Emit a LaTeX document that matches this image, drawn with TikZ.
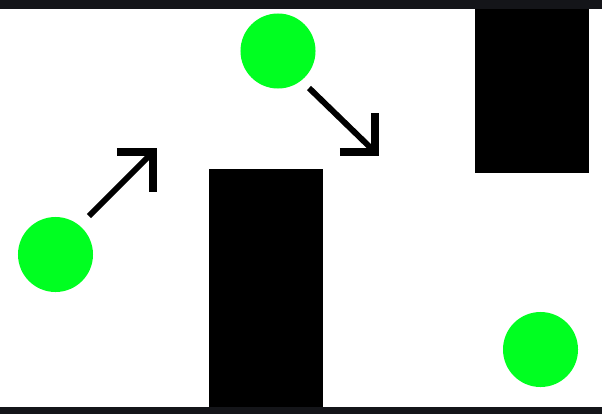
\documentclass[tikz,border=0pt]{standalone}
\usepackage{tikz}
\definecolor{ballgreen}{RGB}{0,255,33}
\definecolor{edgedark}{RGB}{20,21,25}
\tikzset{
  ball/.style={circle,fill=ballgreen,draw=none,inner sep=0pt,minimum size=1.875cm},
  wall/.style={fill=black,draw=none},
  shaft/.style={line width=4.2pt},
  barb/.style={line width=5.4pt,miter limit=4}
}
\begin{document}
\begin{tikzpicture}[x=0.025cm,y=-0.025cm]
             \useasboundingbox (0,0) rectangle (602,414);
             \fill[white] (0,0) rectangle (602,414);
             \fill[edgedark] (0,0) rectangle (602,9);
             \fill[edgedark] (0,407) rectangle (602,414);
             \fill[wall] (209,169) rectangle (323,407);
             \fill[wall] (475,9) rectangle (589,173);
             \node[ball] (ballA) at (55.5,254.5) {};
             \node[ball] (ballB) at (278,51) {};
             \node[ball] (ballC) at (540.5,349.5) {};
             \coordinate (tailA) at (89,216);
             \coordinate (tipA) at (153,152);
             \coordinate (tailB) at (309,88);
             \coordinate (tipB) at (375,152);
             \draw[shaft] (tailA) -- (tipA);
             \draw[barb] ([xshift=-0.9cm]tipA) -- (tipA) -- ([yshift=-1.0cm]tipA);
             \draw[shaft] (tailB) -- (tipB);
             \draw[barb] ([xshift=-0.875cm]tipB) -- (tipB) -- ([yshift=0.975cm]tipB);
            \end{tikzpicture}
\end{document}
